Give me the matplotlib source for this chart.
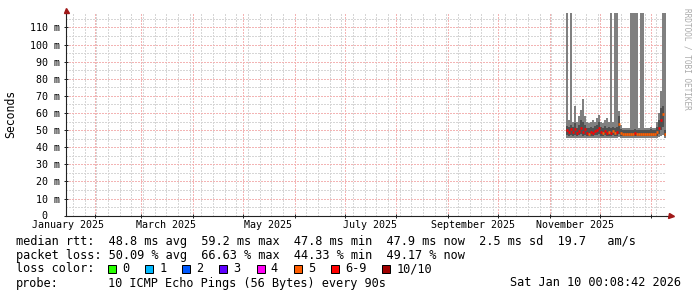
import numpy as np
import pandas as pd
import matplotlib
matplotlib.use("Agg")
import matplotlib.pyplot as plt
import matplotlib.dates as mdates
from matplotlib.patches import Rectangle
from matplotlib.transforms import blended_transform_factory, ScaledTranslation

# ------------------------------------------------------------------ data
axis_start = pd.Timestamp("2025-01-15 00:08:42")
axis_end = pd.Timestamp("2026-01-10 00:08:42")
data_start = pd.Timestamp("2025-11-11 00:08:42")
step_minutes = 1728          # consolidated RRD step (28.8 h per bin)

SPIKE = 200.0                # ping values above the graph top (clipped)

median_ms = [50.0, 49.0, 50.5, 49.0, 50.5, 48.5, 49.5, 51.5, 49.0, 50.5,
             48.5, 48.0, 49.0, 48.5, 49.5, 50.0, 51.5, 49.0, 48.5, 49.5,
             48.5, 49.0, 48.5, 49.5, 48.5, 49.0, 53.5, 48.5, 48.0, 48.0,
             48.0, 48.0, 48.0, 48.0, 48.5, 48.0, 48.0, 48.0, 48.0, 48.0,
             48.0, 48.0, 48.0, 48.0, 48.0, 49.0, 51.0, 56.0, 59.2, 48.0]
loss_count = [6, 6, 6, 6, 6, 6, 6, 6, 6, 6,
              6, 5, 6, 6, 6, 6, 6, 6, 5, 6,
              6, 5, 6, 5, 5, 6, 5, 5, 5, 5,
              5, 5, 5, 5, 6, 5, 5, 5, 5, 5,
              5, 5, 5, 5, 5, 5, 6, 6, 5, 5]
low_ms = [45.5, 45.5, 45.5, 45.5, 45.5, 45.5, 45.5, 45.5, 45.5, 45.5,
          45.5, 45.5, 45.5, 45.5, 45.5, 45.5, 45.5, 45.5, 45.5, 45.5,
          45.5, 45.5, 45.5, 45.5, 45.5, 45.5, 46.0, 45.5, 45.5, 45.5,
          45.5, 45.5, 45.5, 45.5, 45.5, 45.5, 45.5, 45.5, 45.5, 45.5,
          45.5, 45.5, 45.5, 45.5, 45.5, 45.5, 46.0, 46.5, 47.0, 45.5]
q1_ms = [47.0, 46.8, 47.0, 46.5, 47.0, 46.5, 47.0, 47.5, 46.5, 47.0,
         46.5, 46.5, 46.8, 46.5, 47.0, 47.0, 47.5, 46.5, 46.5, 47.0,
         46.5, 46.5, 46.5, 47.0, 46.5, 46.8, 48.0, 46.5, 46.3, 46.3,
         46.3, 46.3, 46.3, 46.3, 46.5, 46.3, 46.3, 46.3, 46.3, 46.3,
         46.3, 46.3, 46.3, 46.3, 46.3, 46.5, 48.0, 50.0, 52.0, 46.5]
q3_ms = [52.5, 52.0, 53.0, 52.0, 54.0, 51.0, 53.0, 56.0, 55.0, 53.0,
         51.5, 51.0, 52.0, 51.5, 52.5, 53.0, 55.0, 52.0, 51.5, 52.5,
         51.5, 52.0, 51.5, 52.0, 51.5, 52.0, 58.0, 50.5, 50.0, 49.8,
         49.8, 49.8, 49.8, 49.8, 50.5, 49.8, 49.8, 49.8, 49.8, 49.8,
         50.0, 49.8, 50.5, 49.8, 50.0, 52.0, 56.0, 63.0, 64.0, 50.0]
high_ms = [SPIKE, 56.0, SPIKE, 55.0, 64.0, 55.0, 58.0, 62.0, 68.0, 58.0,
           55.0, 54.0, 55.0, 56.0, 55.0, 57.0, 59.0, 55.0, 54.0, 56.0,
           57.0, 55.0, SPIKE, 55.0, SPIKE, SPIKE, 61.0, 53.0, 51.5, 51.0,
           51.0, 51.5, SPIKE, SPIKE, SPIKE, SPIKE, 51.0, SPIKE, SPIKE, 51.0,
           51.5, 51.0, 52.0, 51.0, 51.5, 55.0, 60.0, 73.0, SPIKE, SPIKE]

month_label_text = ["January 2025", "March 2025", "May 2025", "July 2025",
                    "September 2025", "November 2025"]
month_label_start = ["2025-01-01", "2025-03-01", "2025-05-01", "2025-07-01",
                     "2025-09-01", "2025-11-01"]
y_ticks_ms = [0, 10, 20, 30, 40, 50, 60, 70, 80, 90, 100, 110]
y_tick_labels = ["0", "10 m", "20 m", "30 m", "40 m", "50 m", "60 m",
                 "70 m", "80 m", "90 m", "100 m", "110 m"]

rtt_names = ["avg", "max", "min", "now"]
rtt_values = [48.8, 59.2, 47.8, 47.9]
rtt_sd = 2.5
rtt_ams = 19.7
loss_names = ["avg", "max", "min", "now"]
loss_values = [50.09, 66.63, 44.33, 49.17]
loss_labels = ["0", "1", "2", "3", "4", "5", "6-9", "10/10"]
loss_colors = ["#26ff00", "#00b8ff", "#0059ff", "#5e00ff", "#ff00f5",
               "#ff5e00", "#ff0000", "#a00000"]
probe_text = "10 ICMP Echo Pings (56 Bytes) every 90s"
stamp_text = "Sat Jan 10 00:08:42 2026"

# ------------------------------------------------------------------ layout
W, H = 697, 297
L, R, T, B = 66.3, 666.3, 12.5, 215.7
MONO = "DejaVu Sans Mono"
FS_LEG = 8.55
FS_AX = 7.2
GRID_C = "#d6d6d6"
MGRID_C = "#f3b4b4"
AXIS_C = "#222222"
ARROW_C = "#a01818"

fig = plt.figure(figsize=(W / 100, H / 100), dpi=100)
fig.patch.set_facecolor("white")
ax = fig.add_axes([L / W, 1 - B / H, (R - L) / W, (B - T) / H])
ax.set_facecolor("white")

t0 = mdates.date2num(axis_start.to_pydatetime())
t1 = mdates.date2num(axis_end.to_pydatetime())
ax.set_xlim(t0, t1)
ax.set_ylim(0, 118.7)

# grid
month_starts = pd.date_range("2025-02-01", "2026-01-01", freq="MS")
weeks = pd.date_range("2025-01-19", "2026-01-10", freq="W-SUN")
ax.set_xticks(mdates.date2num(month_starts.to_pydatetime()))
ax.set_xticks(mdates.date2num(weeks.to_pydatetime()), minor=True)
ax.set_xticklabels([])
ax.set_yticks(y_ticks_ms)
ax.set_yticks([v + 5 for v in y_ticks_ms], minor=True)
ax.set_yticklabels(y_tick_labels, family=MONO, fontsize=FS_AX)
ax.set_axisbelow(True)
dot = (0, (1, 1))
ax.grid(which="minor", color=GRID_C, linestyle=dot, linewidth=1.0,
        antialiased=False)
ax.grid(which="major", color=MGRID_C, linestyle=dot, linewidth=1.0,
        antialiased=False)

ax.tick_params(axis="x", which="major", direction="inout", length=3.5,
               width=0.72, color=AXIS_C)
ax.tick_params(axis="x", which="minor", length=0)
ax.tick_params(axis="y", which="major", direction="inout", length=2.2,
               width=0.72, color=AXIS_C, pad=3.4)
ax.tick_params(axis="y", which="minor", length=0)
lab0 = ax.get_yticklabels()[0]
lab0.set_transform(lab0.get_transform() +
                   ScaledTranslation(-13 / 100, 1 / 100, fig.dpi_scale_trans))

for s in ("top", "right"):
    ax.spines[s].set_visible(False)
for s in ("left", "bottom"):
    ax.spines[s].set_color(AXIS_C)
    ax.spines[s].set_linewidth(0.8)

# arrows
ax.plot([1.0, 1.0 + 4 / (R - L)], [0, 0], transform=ax.transAxes,
        color=AXIS_C, lw=0.8, clip_on=False)
ax.plot([0, 0], [1.0, 1.0 + 2 / (B - T)], transform=ax.transAxes,
        color=AXIS_C, lw=0.8, clip_on=False)
ax.plot([1.0 + 5 / (R - L)], [0], transform=ax.transAxes, marker=">",
        markersize=3.6, color=ARROW_C, clip_on=False, zorder=10)
ax.plot([0], [1.0 + 2.5 / (B - T)], transform=ax.transAxes, marker="^",
        markersize=3.6, color=ARROW_C, clip_on=False, zorder=10)

# smoke + median
times = pd.date_range(data_start, periods=len(median_ms) + 1,
                      freq=f"{step_minutes}min")
tn = mdates.date2num(times.to_pydatetime())


def ext(a):
    a = np.asarray(a, dtype=float)
    return np.append(a, a[-1])


ax.fill_between(tn, ext(low_ms), ext(high_ms), step="post",
                color="#808080", linewidth=0, zorder=3)
ax.fill_between(tn, ext(q1_ms), ext(q3_ms), step="post",
                color="#505050", linewidth=0, zorder=4)


def loss_idx(c):
    if c >= 10:
        return 7
    return min(c, 6)


med_cols = [loss_colors[loss_idx(c)] for c in loss_count]
ax.hlines(median_ms, tn[:-1], tn[1:], colors=med_cols, linewidth=1.9,
          zorder=5)

# x labels (centred half a month after the month start)
trans = blended_transform_factory(ax.transData, fig.transFigure)
for txt, d in zip(month_label_text, month_label_start):
    xc = mdates.date2num((pd.Timestamp(d) + pd.Timedelta(days=15)).to_pydatetime())
    ax.text(xc, 1 - 225.0 / H, txt, transform=trans, ha="center",
            va="center", family=MONO, fontsize=FS_AX, clip_on=False)

fig.text(10.5 / W, 1 - 114 / H, "Seconds", rotation=90, ha="center",
         va="center", family=MONO, fontsize=8.3)
fig.text(687 / W, 1 - 59 / H, "RRDTOOL / TOBI OETIKER", rotation=270,
         ha="center", va="center", family=MONO, fontsize=5.6,
         color="#aaaaaa")

# legend
def ftxt(x, y, s, **kw):
    fig.text(x / W, 1 - y / H, s, family=MONO, fontsize=FS_LEG,
             va="center", **kw)


line1 = "median rtt:  " + "  ".join(
    f"{v:.1f} ms {n}" for v, n in zip(rtt_values, rtt_names))
line1 += f"  {rtt_sd:.1f} ms sd  {rtt_ams:.1f}   am/s"
line2 = "packet loss: " + "  ".join(
    f"{v:.2f} % {n}" for v, n in zip(loss_values, loss_names))
ftxt(16, 241, line1)
ftxt(16, 255, line2)
ftxt(16, 269, "loss color:")
cw = 7.15
x = 108.0
for lab, col in zip(loss_labels, loss_colors):
    fig.add_artist(Rectangle((x / W, 1 - 273 / H), 8 / W, 8 / H,
                             transform=fig.transFigure, facecolor=col,
                             edgecolor="black", linewidth=0.72))
    ftxt(x + 14, 269, lab)
    x += 14 + len(lab) * cw + 16
ftxt(16, 283, "probe:")
ftxt(108, 283, probe_text)
ftxt(681, 283, stamp_text, ha="right")

fig.savefig("out.png", dpi=100, facecolor="white")
